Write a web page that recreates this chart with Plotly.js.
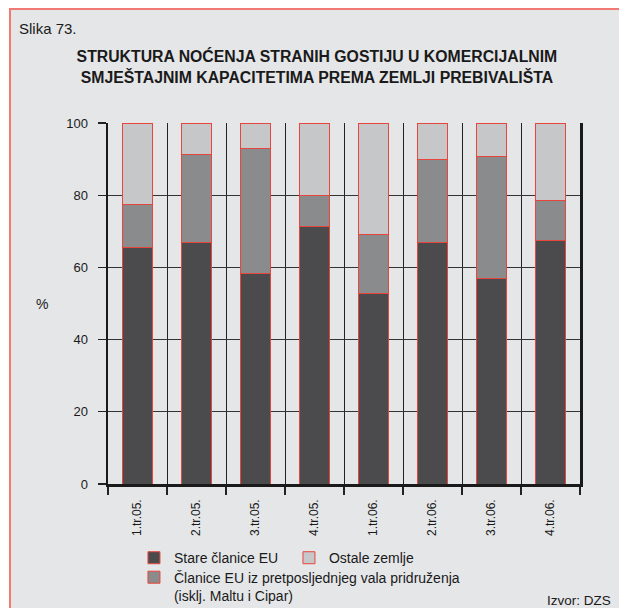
<!DOCTYPE html>
<html>
<head>
<meta charset="utf-8">
<script src="https://cdn.plot.ly/plotly-3.0.1.min.js"></script>
<style>
  html, body { margin:0; padding:0; background:#ffffff; }
  #frame { position:absolute; left:9px; top:8px; width:610px; height:600px; background:#e5e6e8;
           border-left:2px solid #f07a73; border-top:2px solid #f07a73; box-sizing:border-box; }
  #chart { position:absolute; left:0; top:0; width:619px; height:608px; }
</style>
</head>
<body>
<div id="frame"></div>
<div id="chart"></div>
<script>
const categories = ["1.tr.05.", "2.tr.05.", "3.tr.05.", "4.tr.05.", "1.tr.06.", "2.tr.06.", "3.tr.06.", "4.tr.06."];
const stareClanice = [65.4, 66.8, 58.4, 71.4, 52.9, 66.8, 56.8, 67.5];
const noveClanice  = [12.1, 24.6, 34.5, 8.4, 16.3, 23.1, 33.8, 10.9];
const ostaleZemlje = [22.5, 8.6, 7.1, 20.2, 30.8, 10.1, 9.4, 21.6];
const yTicks = [0, 20, 40, 60, 80, 100];

const font = "Liberation Sans, Arial, Helvetica, sans-serif";
const redLine = {color:"#e8463c", width:1};

const traces = [
  {type:"bar", name:"Stare članice EU", x:categories, y:stareClanice,
   marker:{color:"#4b4b4d", line:redLine}, legend:"legend", legendrank:1},
  {type:"bar", name:"Članice EU iz pretposljednjeg vala pridruženja<br>(isklj. Maltu i Cipar)", x:categories, y:noveClanice,
   marker:{color:"#8a8b8d", line:redLine}, legend:"legend2", legendrank:3},
  {type:"bar", name:"Ostale zemlje", x:categories, y:ostaleZemlje,
   marker:{color:"#c6c7c9", line:redLine}, legend:"legend", legendrank:2}
];

const layout = {
  width:619, height:608,
  margin:{l:108, r:39, t:123, b:124, autoexpand:false},
  paper_bgcolor:"rgba(0,0,0,0)", plot_bgcolor:"rgba(0,0,0,0)",
  font:{family:font, color:"#1a1a1a", size:13},
  barmode:"stack", bargap:0.5,
  title:{text:"<b>STRUKTURA NOĆENJA STRANIH GOSTIJU U KOMERCIJALNIM<br>SMJEŠTAJNIM KAPACITETIMA PREMA ZEMLJI PREBIVALIŠTA</b>",
         font:{family:font, size:15.8, color:"#1a1a1a"}, x:0.512, xanchor:"center", y:0.898, yanchor:"top", yref:"container"},
  xaxis:{type:"category", tickson:"boundaries", showgrid:true, gridcolor:"#222", gridwidth:1,
         ticks:"outside", ticklen:8, tickcolor:"#222", tickwidth:1.2, tickangle:-90,
         ticklabelstandoff:8,
         tickfont:{size:12, family:font, color:"#1a1a1a"},
         showline:true, linecolor:"#1a1a1a", linewidth:2.5, mirror:false, fixedrange:true},
  yaxis:{range:[0,100], tickvals:yTicks, showgrid:true, gridcolor:"#333", gridwidth:1,
         ticks:"outside", ticklen:8, tickcolor:"#222", tickwidth:1.2,
         ticklabelstandoff:7,
         tickfont:{size:13, family:font, color:"#1a1a1a"},
         showline:true, linecolor:"#1a1a1a", linewidth:2.5, mirror:true, zeroline:false, fixedrange:true},
  showlegend:true,
  legend:{orientation:"h", x:0.055, xanchor:"left", y:-0.161, yanchor:"top",
          entrywidth:110, entrywidthmode:"pixels", itemwidth:30, bgcolor:"rgba(0,0,0,0)",
          font:{family:font, size:14, color:"#1a1a1a"}, traceorder:"normal"},
  legend2:{orientation:"h", x:0.055, xanchor:"left", y:-0.215, yanchor:"top", valign:"top",
          itemwidth:30, bgcolor:"rgba(0,0,0,0)",
          font:{family:font, size:14, color:"#1a1a1a"}},
  annotations:[
    {text:"Slika 73.", xref:"paper", yref:"paper", x:-0.193, y:1.263, xanchor:"left", yanchor:"middle",
     showarrow:false, font:{family:font, size:15, color:"#1a1a1a"}},
    {text:"%", xref:"paper", yref:"paper", x:-0.14, y:0.5, xanchor:"center", yanchor:"middle",
     showarrow:false, font:{family:font, size:14, color:"#1a1a1a"}},
    {text:"Izvor: DZS", xref:"paper", yref:"paper", x:1.07, y:-0.322, xanchor:"right", yanchor:"middle",
     showarrow:false, font:{family:font, size:13.5, color:"#1a1a1a"}}
  ]
};

Plotly.newPlot("chart", traces, layout, {displayModeBar:false, staticPlot:true});
</script>
</body>
</html>
